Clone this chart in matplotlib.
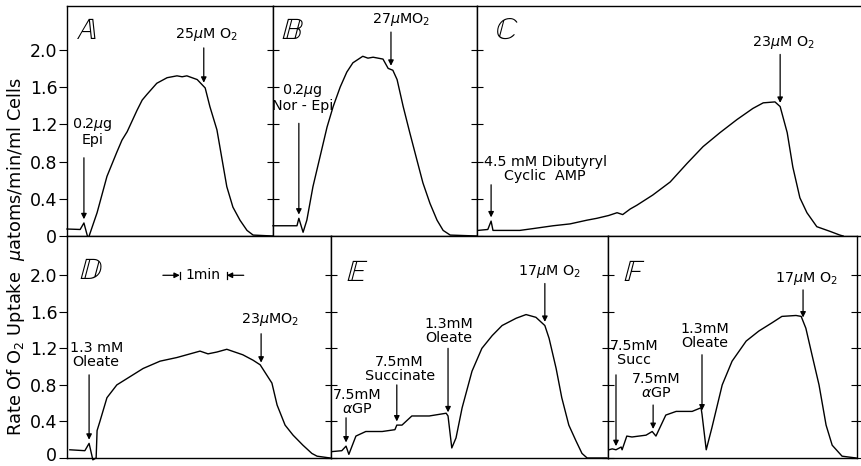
import numpy as np
import matplotlib.pyplot as plt
from matplotlib.transforms import ScaledTranslation

# O2 uptake traces, time in min, rate in uatoms O2/min/ml cells
t_A = [0.00, 0.28, 0.36, 0.45, 0.64, 0.85, 1.06, 1.17, 1.28, 1.49, 1.60, 1.70, 1.91, 2.13,
       2.34, 2.45, 2.55, 2.77, 2.94, 3.04, 3.19, 3.30, 3.40, 3.53, 3.68, 3.83, 3.96, 4.38]
r_A = [0.075, 0.07, 0.14, -0.03, 0.25, 0.64, 0.90, 1.03, 1.12, 1.35, 1.46, 1.52, 1.64, 1.70,
       1.72, 1.71, 1.72, 1.68, 1.59, 1.39, 1.14, 0.82, 0.53, 0.31, 0.17, 0.06, 0.01, 0.0]

t_B = [0.00, 0.51, 0.55, 0.64, 0.72, 0.85, 1.00, 1.15, 1.28, 1.43, 1.57, 1.70, 1.91, 2.02,
       2.13, 2.34, 2.45, 2.55, 2.64, 2.77, 2.91, 3.06, 3.19, 3.34, 3.49, 3.62, 3.77, 4.34]
r_B = [0.11, 0.11, 0.19, 0.04, 0.17, 0.53, 0.85, 1.17, 1.39, 1.60, 1.76, 1.86, 1.93, 1.91,
       1.92, 1.90, 1.80, 1.78, 1.68, 1.39, 1.11, 0.82, 0.57, 0.35, 0.17, 0.06, 0.01, 0.0]

t_C = [0.02, 0.23, 0.30, 0.34, 0.91, 1.20, 1.62, 1.98, 2.34, 2.55, 2.80, 2.98, 3.10, 3.26,
       3.40, 3.74, 4.11, 4.47, 4.81, 5.17, 5.53, 5.87, 6.09, 6.34, 6.45, 6.60, 6.72, 6.87,
       7.02, 7.23, 7.51, 7.72, 7.79]
r_C = [0.06, 0.07, 0.16, 0.06, 0.06, 0.08, 0.11, 0.13, 0.17, 0.19, 0.22, 0.25, 0.23, 0.29,
       0.33, 0.44, 0.58, 0.78, 0.96, 1.11, 1.25, 1.37, 1.43, 1.44, 1.39, 1.11, 0.74, 0.41,
       0.25, 0.10, 0.05, 0.01, 0.0]

t_D = [0.06, 0.38, 0.47, 0.55, 0.62, 0.64, 0.70, 0.85, 1.06, 1.34, 1.62, 1.98, 2.34, 2.83,
       3.00, 3.19, 3.40, 3.74, 3.96, 4.11, 4.26, 4.36, 4.47, 4.64, 4.81, 5.02, 5.21, 5.32,
       5.60]
r_D = [0.09, 0.08, 0.16, -0.02, 0.0, 0.30, 0.40, 0.66, 0.80, 0.89, 0.98, 1.06, 1.10, 1.17,
       1.14, 1.16, 1.19, 1.13, 1.07, 1.02, 0.90, 0.82, 0.58, 0.36, 0.25, 0.14, 0.05, 0.02,
       0.0]

t_E = [0.02, 0.23, 0.32, 0.38, 0.53, 0.74, 1.09, 1.36, 1.40, 1.51, 1.72, 2.09, 2.45, 2.49,
       2.57, 2.66, 2.79, 3.00, 3.21, 3.43, 3.64, 3.94, 4.15, 4.36, 4.55, 4.64, 4.79, 4.91,
       5.06, 5.21, 5.34, 5.45, 5.87]
r_E = [0.07, 0.08, 0.13, 0.04, 0.24, 0.29, 0.29, 0.31, 0.36, 0.36, 0.46, 0.46, 0.49, 0.46,
       0.11, 0.22, 0.55, 0.95, 1.20, 1.34, 1.45, 1.53, 1.57, 1.54, 1.45, 1.31, 0.98, 0.66,
       0.36, 0.19, 0.05, 0.0, 0.0]

t_F = [0.02, 0.09, 0.17, 0.28, 0.30, 0.40, 0.51, 0.81, 0.94, 1.02, 1.23, 1.45, 1.79, 1.98,
       2.00, 2.09, 2.21, 2.43, 2.64, 2.94, 3.21, 3.49, 3.70, 4.00, 4.11, 4.21, 4.34, 4.49,
       4.64, 4.77, 4.98, 5.28]
r_F = [0.09, 0.10, 0.09, 0.12, 0.09, 0.24, 0.23, 0.25, 0.29, 0.24, 0.47, 0.51, 0.51, 0.55,
       0.48, 0.09, 0.33, 0.80, 1.06, 1.28, 1.39, 1.48, 1.55, 1.56, 1.55, 1.42, 1.13, 0.80,
       0.36, 0.14, 0.02, 0.0]

# additions: (time of addition, label)
add_A = [(0.36, '0.2$\\mu$g\nEpi'), (2.91, '25$\\mu$M O$_2$')]
add_B = [(0.55, '0.2$\\mu$g\nNor - Epi'), (2.51, '27$\\mu$MO$_2$')]
add_C = [(0.30, '4.5 mM Dibutyryl\nCyclic  AMP'), (6.45, '23$\\mu$M O$_2$')]
add_D = [(0.47, '1.3 mM\nOleate'), (4.13, '23$\\mu$MO$_2$')]
add_E = [(0.32, '7.5mM\n$\\alpha$GP'), (1.40, '7.5mM\nSuccinate'),
         (2.49, '1.3mM\nOleate'), (4.55, '17$\\mu$M O$_2$')]
add_F = [(0.17, '7.5mM\nSucc'), (0.96, '7.5mM\n$\\alpha$GP'),
         (2.00, '1.3mM\nOleate'), (4.15, '17$\\mu$M O$_2$')]

ticks = [0, 0.4, 0.8, 1.2, 1.6, 2.0]
tick_labels = ['0', '0.4', '0.8', '1.2', '1.6', '2.0']

W, H = 862, 466
PX_PER_MIN = 47.0

# panel boxes in pixels: left, bottom, width, height
# arrow layout per addition: (arrow tail rate, text x, text bottom rate)
panels = [
    ('A', t_A, r_A, add_A, (67, 230, 206, 230), 2.47, (9, 10),
     [(0.84, 0.55, 0.96), (2.02, 2.96, 2.07)]),
    ('B', t_B, r_B, add_B, (273, 230, 204, 230), 2.47, (8, 10),
     [(1.21, 0.62, 1.32), (2.19, 2.72, 2.23)]),
    ('C', t_C, r_C, add_C, (477, 230, 385, 230), 2.47, (18, 10),
     [(0.55, 1.45, 0.57), (1.95, 6.51, 1.99)]),
    ('D', t_D, r_D, add_D, (67, 8, 264, 222), 2.43, (12, 20),
     [(0.91, 0.62, 0.97), (1.36, 4.32, 1.42)]),
    ('E', t_E, r_E, add_E, (331, 8, 277, 222), 2.43, (15, 22),
     [(0.44, 0.55, 0.46), (0.80, 1.46, 0.82), (1.20, 2.51, 1.24), (1.91, 4.64, 1.95)]),
    ('F', t_F, r_F, add_F, (608, 8, 249, 222), 2.43, (15, 22),
     [(0.91, 0.55, 1.00), (0.58, 1.02, 0.64), (1.13, 2.05, 1.18), (1.84, 4.23, 1.87)]),
]

fig = plt.figure(figsize=(W / 100, H / 100), dpi=100)
arrow_kw = dict(arrowstyle='-|>', color='k', lw=0.9, mutation_scale=8,
                shrinkA=0, shrinkB=0)

for letter, t, r, adds, box, ytop, letter_off, layout in panels:
    x0, y0, w, h = box
    ax = fig.add_axes([x0 / W, y0 / H, w / W, h / H])
    ax.plot(t, r, color='k', lw=1.0, clip_on=False)
    ax.set_xlim(0, w / PX_PER_MIN)
    ax.set_ylim(0, ytop)
    ax.set_xticks([])
    ax.set_yticks(ticks)
    if letter in ('A', 'D'):
        ax.set_yticklabels(tick_labels, fontsize=12.5)
        ax.tick_params(axis='y', direction='out', length=6, width=0.8, pad=1)
        if letter == 'D':
            # keep the bottom zero label inside the figure
            lbl = ax.get_yticklabels()[0]
            lbl.set_transform(lbl.get_transform()
                              + ScaledTranslation(0, 3 / 72, fig.dpi_scale_trans))
    else:
        ax.set_yticklabels([])
        ax.tick_params(axis='y', direction='inout', length=8, width=0.8)
    if letter == 'F':
        ax.tick_params(axis='y', right=True)
    for s in ax.spines.values():
        s.set_linewidth(1.0)
    if letter == 'C':
        ax.spines['right'].set_visible(False)

    ax.annotate('$\\mathbb{%s}$' % letter, xy=(0, 1), xycoords='axes fraction',
                xytext=(letter_off[0] * 0.72, -letter_off[1] * 0.72),
                textcoords='offset points', ha='left', va='top', fontsize=22)

    for (t_add, label), (tail, tx, ty) in zip(adds, layout):
        tip = np.interp(t_add, t, r) + 0.04
        ax.annotate('', xy=(t_add, tip), xytext=(t_add, tail), arrowprops=arrow_kw)
        ax.text(tx, ty, label, ha='center', va='bottom', fontsize=10.3,
                linespacing=1.0)

    if letter == 'D':
        # one minute scale bar
        bar_start, bar_len, bar_y = 2.40, 1.0, 2.0
        ax.plot([bar_start, bar_start], [bar_y - 0.04, bar_y + 0.04], color='k', lw=0.9)
        ax.plot([bar_start + bar_len] * 2, [bar_y - 0.04, bar_y + 0.04], color='k', lw=0.9)
        ax.annotate('', xy=(bar_start, bar_y), xytext=(bar_start - 0.36, bar_y),
                    arrowprops=arrow_kw)
        ax.annotate('', xy=(bar_start + bar_len, bar_y),
                    xytext=(bar_start + bar_len + 0.36, bar_y), arrowprops=arrow_kw)
        ax.text(bar_start + bar_len / 2, bar_y, '1min', ha='center', va='center',
                fontsize=10)

fig.text(0.018, 0.45, 'Rate Of O$_2$ Uptake  $\\mu$atoms/min/ml Cells', rotation=90,
         ha='center', va='center', fontsize=12.8)

fig.savefig('out.png', dpi=100)
